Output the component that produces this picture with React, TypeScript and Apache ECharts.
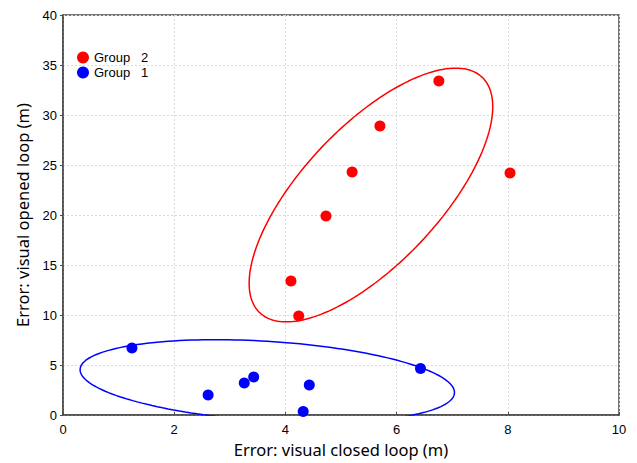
import React, { useEffect, useRef } from "react";
import * as echarts from "echarts";

const group2X = [4.24, 4.1, 4.73, 5.2, 5.7, 6.76, 8.04];
const group2Y = [9.9, 13.4, 19.9, 24.3, 28.9, 33.4, 24.2];
const group1X = [1.24, 2.61, 3.26, 3.43, 4.43, 4.32, 6.43];
const group1Y = [6.7, 2.0, 3.2, 3.8, 3.0, 0.36, 4.66];
const seriesNames = ["Group   2", "Group   1"];
const ellipseScale = [1.53, 2.07];
const xTicks = { min: 0, max: 10, interval: 2 };
const yTicks = { min: 0, max: 40, interval: 5 };

function ellipsePoints(xs: number[], ys: number[], k: number) {
  const n = xs.length;
  const mx = xs.reduce((a, b) => a + b, 0) / n;
  const my = ys.reduce((a, b) => a + b, 0) / n;
  let sxx = 0, syy = 0, sxy = 0;
  for (let i = 0; i < n; i++) {
    sxx += (xs[i] - mx) ** 2;
    syy += (ys[i] - my) ** 2;
    sxy += (xs[i] - mx) * (ys[i] - my);
  }
  sxx /= n - 1; syy /= n - 1; sxy /= n - 1;
  const l11 = Math.sqrt(sxx);
  const l21 = sxy / l11;
  const l22 = Math.sqrt(syy - l21 * l21);
  const pts: number[][] = [];
  const N = 180;
  for (let i = 0; i <= N; i++) {
    const t = (2 * Math.PI * i) / N;
    const c = Math.cos(t), s = Math.sin(t);
    pts.push([mx + k * l11 * c, my + k * (l21 * c + l22 * s)]);
  }
  return pts;
}

export default function App() {
  const ref = useRef<HTMLDivElement>(null);
  useEffect(() => {
    if (!ref.current) return;
    const chart = echarts.init(ref.current, null, { renderer: "svg" });
    const titleFont = "'Noto Sans', 'DejaVu Sans', sans-serif";
    const tickFont = "'Liberation Sans', Arial, sans-serif";
    const g2 = group2X.map((x, i) => [x, group2Y[i]]);
    const g1 = group1X.map((x, i) => [x, group1Y[i]]);
    const split = { show: true, lineStyle: { color: "#d9d9d9", type: [2, 2], width: 1 } };
    chart.setOption({
      animation: false,
      backgroundColor: "#ffffff",
      grid: { left: 63, right: 18, top: 15, bottom: 48 },
      legend: {
        data: seriesNames,
        orient: "vertical",
        left: 72,
        top: 46,
        icon: "circle",
        itemWidth: 12,
        itemHeight: 12,
        itemGap: 2,
        textStyle: { fontFamily: tickFont, fontSize: 13, color: "#000" },
      },
      xAxis: {
        type: "value",
        min: xTicks.min,
        max: xTicks.max,
        interval: xTicks.interval,
        name: "Error: visual closed loop (m)",
        nameLocation: "middle",
        nameGap: 24,
        nameTextStyle: { fontFamily: titleFont, fontSize: 16.5, color: "#000" },
        axisLine: { show: true, lineStyle: { color: "#4a4a4a", width: 1.5 } },
        axisTick: { show: true, inside: true, length: 3, lineStyle: { color: "#4a4a4a" } },
        axisLabel: { fontFamily: tickFont, fontSize: 13, color: "#000", margin: 8 },
        splitLine: split,
      },
      yAxis: {
        type: "value",
        min: yTicks.min,
        max: yTicks.max,
        interval: yTicks.interval,
        name: "Error: visual opened loop (m)",
        nameLocation: "middle",
        nameGap: 32,
        nameTextStyle: { fontFamily: titleFont, fontSize: 16.5, color: "#000" },
        axisLine: { show: true, lineStyle: { color: "#4a4a4a", width: 1.5 } },
        axisTick: { show: true, length: 3, lineStyle: { color: "#4a4a4a" } },
        axisLabel: { fontFamily: tickFont, fontSize: 13, color: "#000", margin: 6 },
        splitLine: split,
      },
      graphic: [
        {
          type: "rect",
          shape: { x: 63, y: 15, width: 556, height: 400 },
          style: { fill: "none", stroke: "#4a4a4a", lineWidth: 1.5 },
          silent: true,
          z: 0,
        },
      ],
      series: [
        {
          name: seriesNames[0],
          type: "scatter",
          data: g2,
          symbol: "circle",
          symbolSize: 11,
          itemStyle: { color: "#ff0000", opacity: 1 },
          z: 5,
        },
        {
          name: seriesNames[1],
          type: "scatter",
          data: g1,
          symbol: "circle",
          symbolSize: 11,
          itemStyle: { color: "#0000ff", opacity: 1 },
          z: 5,
        },
        {
          name: "ellipse2",
          type: "line",
          data: ellipsePoints(group2X, group2Y, ellipseScale[0]),
          showSymbol: false,
          symbol: "none",
          clip: true,
          lineStyle: { color: "#ff0000", width: 1.5 },
          z: 3,
        },
        {
          name: "ellipse1",
          type: "line",
          data: ellipsePoints(group1X, group1Y, ellipseScale[1]),
          showSymbol: false,
          symbol: "none",
          clip: true,
          lineStyle: { color: "#0000ff", width: 1.5 },
          z: 3,
        },
      ],
    });
    return () => chart.dispose();
  }, []);
  return <div ref={ref} style={{ width: 637, height: 463, position: "absolute", left: 0, top: 0 }} />;
}
